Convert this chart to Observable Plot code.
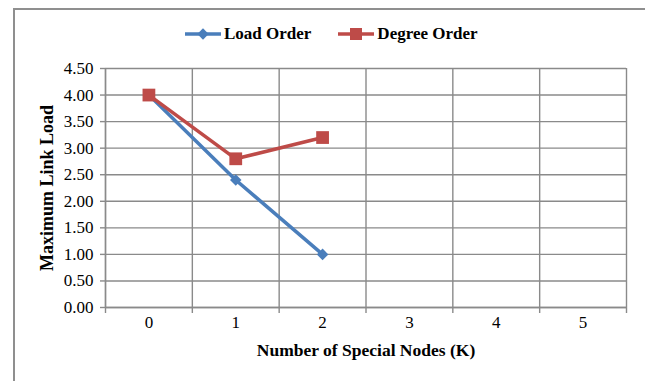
<!DOCTYPE html>
<html>
<head>
<meta charset="utf-8">
<script src="https://cdn.jsdelivr.net/npm/d3@7"></script>
<script src="https://cdn.jsdelivr.net/npm/@observablehq/plot@0.6"></script>
<style>
  html, body { margin: 0; padding: 0; background: #fff; }
  #wrap { position: relative; width: 645px; height: 381px; overflow: hidden; font-family: "Liberation Serif", "Times New Roman", serif; }
  #border { position: absolute; left: 13px; top: 8px; width: 700px; height: 400px; border-left: 2px solid #8f8f8f; border-top: 2px solid #8f8f8f; }
  #chart { position: absolute; left: 0; top: 0; }
  #chart svg, #chart svg text { font-family: "Liberation Serif", "Times New Roman", serif !important; }
  #legend { position: absolute; top: 24px; left: 184px; display: flex; align-items: center; font-weight: bold; font-size: 17px; color: #000; }
  #legend .item { display: flex; align-items: center; }
  #legend svg { display: block; }
</style>
</head>
<body>
<div id="wrap">
  <div id="border"></div>
  <div id="chart"></div>
  <div id="legend"></div>
</div>
<script>
// Number of special nodes on the category axis
const nodes = [0, 1, 2, 3, 4, 5];
// Maximum link load for each ordering strategy
const loadOrder = [4.0, 2.4, 1.0];
const degreeOrder = [4.0, 2.8, 3.2];
// Value axis ticks
const yTicks = [0, 0.5, 1, 1.5, 2, 2.5, 3, 3.5, 4, 4.5];

const seriesNames = ["Load Order", "Degree Order"];
const seriesColors = ["#4A7EBB", "#BE4B48"];

const rows = [
  ...loadOrder.map((v, i) => ({k: nodes[i], v, s: seriesNames[0]})),
  ...degreeOrder.map((v, i) => ({k: nodes[i], v, s: seriesNames[1]}))
];
const load = rows.filter(d => d.s === seriesNames[0]);
const degree = rows.filter(d => d.s === seriesNames[1]);

// category boundaries (gridlines sit between categories)
const bounds = [nodes[0] - 0.5, ...nodes.map(n => n + 0.5)];

const grid = "#8a8a8a";
const font = '"Liberation Serif", "Times New Roman", serif';

const chart = Plot.plot({
  width: 645,
  height: 381,
  marginLeft: 105,
  marginRight: 19,
  marginTop: 68,
  marginBottom: 74,
  style: {fontFamily: font, fontSize: "17px", color: "#000", background: "transparent"},
  x: {domain: [bounds[0], bounds[bounds.length - 1]]},
  y: {domain: [0, 4.5]},
  marks: [
    Plot.gridY(yTicks, {stroke: grid, strokeOpacity: 1, strokeWidth: 1.4}),
    Plot.gridX(bounds, {stroke: grid, strokeOpacity: 1, strokeWidth: 1.4}),
    Plot.axisX(bounds, {tickSize: 6, tickFormat: () => "", stroke: grid, strokeWidth: 1.4, label: null}),
    Plot.axisX(nodes, {tickSize: 0, tickPadding: 8, tickFormat: d => String(d), label: null, fontSize: 17}),
    Plot.axisY(yTicks, {tickSize: 5, tickPadding: 7, tickFormat: d3.format(".2f"), stroke: grid, strokeWidth: 1.4, label: null, fontSize: 17}),
    Plot.ruleX([bounds[0]], {stroke: grid, strokeWidth: 1.4}),
    Plot.ruleY([0], {stroke: grid, strokeWidth: 1.4}),
    Plot.line(load, {x: "k", y: "v", stroke: seriesColors[0], strokeWidth: 3.5}),
    Plot.dot(load, {x: "k", y: "v", symbol: "square", rotate: 45, r: 4.6, fill: seriesColors[0], stroke: null}),
    Plot.line(degree, {x: "k", y: "v", stroke: seriesColors[1], strokeWidth: 3.5}),
    Plot.dot(degree, {x: "k", y: "v", symbol: "square", r: 7.2, fill: seriesColors[1], stroke: null}),
    Plot.text(["Maximum Link Load"], {frameAnchor: "left", textAnchor: "middle", dx: -58, rotate: -90, fontWeight: "bold", fontSize: 18}),
    Plot.text(["Number of Special Nodes (K)"], {frameAnchor: "bottom", textAnchor: "middle", dy: 48, fontWeight: "bold", fontSize: 17.5})
  ]
});
document.getElementById("chart").append(chart);

// Legend: line-with-marker swatch followed by the series name
const legend = d3.select("#legend");
seriesNames.forEach((name, i) => {
  const item = legend.append("div").attr("class", "item").style("margin-right", i === 0 ? "26px" : "0");
  const sw = item.append("svg").attr("width", 38).attr("height", 16);
  sw.append("line").attr("x1", 1).attr("x2", 37).attr("y1", 8).attr("y2", 8)
    .attr("stroke", seriesColors[i]).attr("stroke-width", 3.5);
  if (i === 0) {
    sw.append("rect").attr("x", -4).attr("y", -4).attr("width", 8).attr("height", 8)
      .attr("fill", seriesColors[i]).attr("transform", "translate(19,8) rotate(45)");
  } else {
    sw.append("rect").attr("x", 13).attr("y", 2).attr("width", 12).attr("height", 12).attr("fill", seriesColors[i]);
  }
  item.append("span").style("margin-left", "2px").text(name);
});
</script>
</body>
</html>
